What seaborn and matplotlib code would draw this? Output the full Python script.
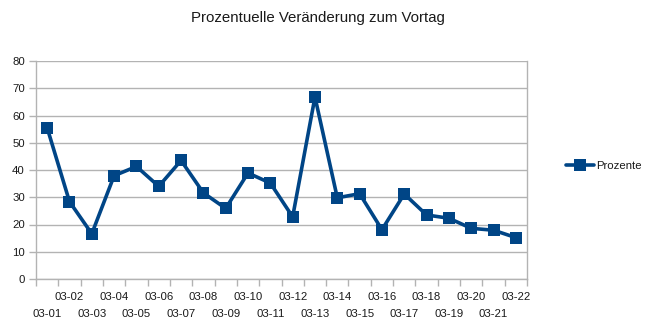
import matplotlib
matplotlib.use("Agg")
import matplotlib.pyplot as plt
import seaborn as sns
import pandas as pd
import numpy as np

# Daily percentage change, 1-22 March
dates = ["03-01", "03-02", "03-03", "03-04", "03-05", "03-06", "03-07", "03-08",
         "03-09", "03-10", "03-11", "03-12", "03-13", "03-14", "03-15", "03-16",
         "03-17", "03-18", "03-19", "03-20", "03-21", "03-22"]
prozente = [55.5, 28.4, 16.6, 37.9, 41.3, 34.0, 43.5, 31.6, 25.9, 38.9, 35.2,
            22.8, 66.8, 29.8, 31.3, 18.1, 31.2, 23.5, 22.3, 18.6, 17.9, 15.2]
y_ticks = [0, 10, 20, 30, 40, 50, 60, 70, 80]

df = pd.DataFrame({"Datum": dates, "Prozente": prozente})

sns.set_theme(style="white")
plt.rcParams["font.family"] = ["Liberation Sans", "DejaVu Sans"]

W, H = 647, 331
fig = plt.figure(figsize=(W / 100, H / 100), dpi=100)
ax = fig.add_axes([36 / W, 1 - 279 / H, (527 - 36) / W, (279 - 61) / H])

blue = "#004586"
grey = "#b3b3b3"
txt = "#1a1a1a"
fs = 8.2

sns.lineplot(data=df, x="Datum", y="Prozente", ax=ax, color=blue, linewidth=2.6,
             marker="s", markersize=8, markeredgewidth=0, sort=False,
             label="Prozente", legend=False)

n = len(dates)
pos = np.arange(n)
ax.set_xlim(-0.5, n - 0.5)
ax.set_ylim(0, 80)
ax.set_yticks(y_ticks)
ax.yaxis.grid(True, color=grey, linewidth=1)
ax.set_axisbelow(True)

# staggered category labels: even dates on the upper row, odd dates below
ax.set_xticks(pos[1::2])
ax.set_xticklabels(dates[1::2], fontsize=fs, color=txt)
ax.set_xticks(pos[0::2], minor=True)
ax.set_xticklabels(dates[0::2], minor=True, fontsize=fs, color=txt)
ax.tick_params(axis="x", which="major", length=0, pad=9)
ax.tick_params(axis="x", which="minor", length=0, pad=21.5)

# tick marks on the category boundaries
sec = ax.secondary_xaxis("bottom")
sec.set_xticks(np.arange(n + 1) - 0.5)
sec.set_xticklabels([])
sec.tick_params(axis="x", length=5, width=1, color=grey, direction="out")
sec.spines["bottom"].set_visible(False)

ax.tick_params(axis="y", length=5, width=1, color=grey, direction="out", left=True,
               labelsize=fs, labelcolor=txt, pad=3)

ax.set_xlabel("")
ax.set_ylabel("")
for side in ["left", "bottom", "right"]:
    ax.spines[side].set_color(grey)
    ax.spines[side].set_linewidth(1)
ax.spines["top"].set_visible(False)

fig.text(318 / W, 1 - 18 / H, "Prozentuelle Veränderung zum Vortag",
         ha="center", va="center", fontsize=10.8, color=txt)

handles, labels = ax.get_legend_handles_labels()
fig.legend(handles, labels, loc="center left", bbox_to_anchor=(556 / W, 1 - 166 / H),
           frameon=False, fontsize=fs, handlelength=2.4, handletextpad=0.2,
           labelcolor=txt)

fig.savefig("out.png", dpi=100, facecolor="white")
